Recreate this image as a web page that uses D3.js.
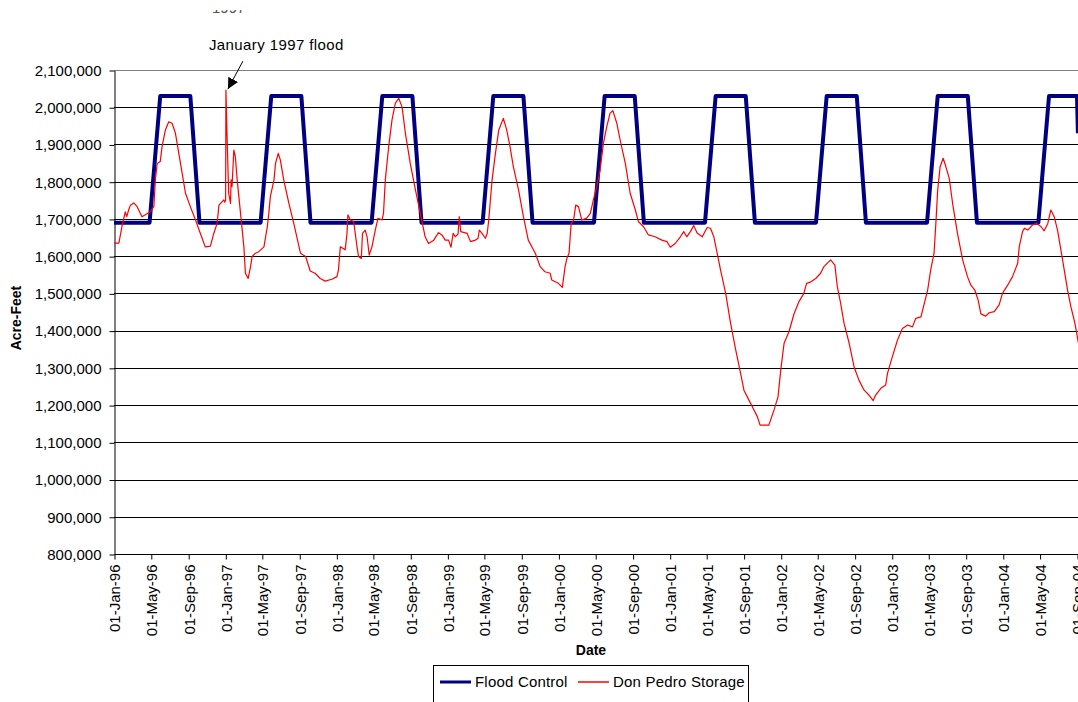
<!DOCTYPE html>
<html>
<head>
<meta charset="utf-8">
<script src="https://cdn.jsdelivr.net/npm/d3@7"></script>
<style>
  body { margin: 0; background: #fff; }
  svg { display: block; font-family: "Liberation Sans", Arial, sans-serif; }
</style>
</head>
<body>
<div id="chart"></div>
<script>
// series names / colours used by the legend
const seriesNames = ['Flood Control', 'Don Pedro Storage'];
const seriesColors = ['#000080', '#ff0000'];

const yTicks = [800000, 900000, 1000000, 1100000, 1200000, 1300000, 1400000,
    1500000, 1600000, 1700000, 1800000, 1900000, 2000000, 2100000];

const xTickLabels = ['01-Jan-96', '01-May-96', '01-Sep-96', '01-Jan-97', '01-May-97', '01-Sep-97',
    '01-Jan-98', '01-May-98', '01-Sep-98', '01-Jan-99', '01-May-99', '01-Sep-99',
    '01-Jan-00', '01-May-00', '01-Sep-00', '01-Jan-01', '01-May-01', '01-Sep-01',
    '01-Jan-02', '01-May-02', '01-Sep-02', '01-Jan-03', '01-May-03', '01-Sep-03',
    '01-Jan-04', '01-May-04', '01-Sep-04'];

// flood control maximum storage (acre-feet)
const floodControl = [
    ['1996-01-01', 1690000], ['1996-04-27', 1690000], ['1996-06-01', 2030000], ['1996-09-08', 2030000], ['1996-10-08', 1690000],
    ['1997-04-27', 1690000], ['1997-06-01', 2030000], ['1997-09-08', 2030000], ['1997-10-08', 1690000],
    ['1998-04-27', 1690000], ['1998-06-01', 2030000], ['1998-09-08', 2030000], ['1998-10-08', 1690000],
    ['1999-04-27', 1690000], ['1999-06-01', 2030000], ['1999-09-08', 2030000], ['1999-10-08', 1690000],
    ['2000-04-27', 1690000], ['2000-06-01', 2030000], ['2000-09-08', 2030000], ['2000-10-08', 1690000],
    ['2001-04-27', 1690000], ['2001-06-01', 2030000], ['2001-09-08', 2030000], ['2001-10-08', 1690000],
    ['2002-04-27', 1690000], ['2002-06-01', 2030000], ['2002-09-08', 2030000], ['2002-10-08', 1690000],
    ['2003-04-27', 1690000], ['2003-06-01', 2030000], ['2003-09-08', 2030000], ['2003-10-08', 1690000],
    ['2004-04-27', 1690000], ['2004-06-01', 2030000], ['2004-09-01', 2030000], ['2004-09-04', 1930000]
];

// Don Pedro reservoir storage (acre-feet)
const donPedroStorage = [
    ['1996-01-01', 1635000], ['1996-01-17', 1635000], ['1996-01-27', 1679000], ['1996-02-07', 1719000],
    ['1996-02-12', 1706000], ['1996-02-18', 1724000], ['1996-02-24', 1737000], ['1996-03-06', 1743000],
    ['1996-03-17', 1733000], ['1996-04-02', 1706000], ['1996-04-13', 1711000], ['1996-04-29', 1719000],
    ['1996-05-11', 1733000], ['1996-05-16', 1805000], ['1996-05-22', 1849000], ['1996-06-01', 1854000],
    ['1996-06-07', 1894000], ['1996-06-18', 1939000], ['1996-06-29', 1961000], ['1996-07-10', 1957000],
    ['1996-07-21', 1930000], ['1996-08-01', 1876000], ['1996-08-12', 1823000], ['1996-08-23', 1769000],
    ['1996-09-08', 1733000], ['1996-09-25', 1697000], ['1996-10-11', 1661000], ['1996-10-27', 1625000],
    ['1996-11-13', 1627000], ['1996-11-24', 1661000], ['1996-12-05', 1688000], ['1996-12-11', 1737000],
    ['1996-12-27', 1751000], ['1996-12-30', 1745000], ['1997-01-02', 1750000], ['1997-01-03', 2046000],
    ['1997-01-07', 1912000], ['1997-01-12', 1769000], ['1997-01-18', 1742000], ['1997-01-20', 1805000],
    ['1997-01-23', 1787000], ['1997-01-29', 1885000], ['1997-02-03', 1867000], ['1997-02-09', 1805000],
    ['1997-02-20', 1715000], ['1997-03-03', 1625000], ['1997-03-08', 1554000], ['1997-03-17', 1540000],
    ['1997-03-25', 1572000], ['1997-03-30', 1599000], ['1997-04-10', 1608000], ['1997-04-21', 1612000],
    ['1997-05-08', 1625000], ['1997-05-19', 1679000], ['1997-05-24', 1715000], ['1997-05-29', 1760000],
    ['1997-06-10', 1805000], ['1997-06-15', 1849000], ['1997-06-24', 1876000], ['1997-07-01', 1858000],
    ['1997-07-12', 1805000], ['1997-07-29', 1742000], ['1997-08-14', 1688000], ['1997-09-05', 1608000],
    ['1997-09-22', 1599000], ['1997-10-07', 1560000], ['1997-10-23', 1554000], ['1997-11-09', 1540000],
    ['1997-11-25', 1533000], ['1997-12-17', 1538000], ['1998-01-03', 1545000], ['1998-01-08', 1563000],
    ['1998-01-14', 1625000], ['1998-01-30', 1617000], ['1998-02-05', 1661000], ['1998-02-08', 1711000],
    ['1998-02-16', 1697000], ['1998-02-27', 1693000], ['1998-03-10', 1625000], ['1998-03-15', 1599000],
    ['1998-03-24', 1594000], ['1998-03-28', 1661000], ['1998-04-06', 1670000], ['1998-04-12', 1652000],
    ['1998-04-19', 1603000], ['1998-04-28', 1625000], ['1998-05-09', 1670000], ['1998-05-18', 1702000],
    ['1998-05-31', 1697000], ['1998-06-05', 1715000], ['1998-06-11', 1805000], ['1998-06-22', 1894000],
    ['1998-07-03', 1966000], ['1998-07-14', 2011000], ['1998-07-25', 2024000], ['1998-08-05', 2001000],
    ['1998-08-16', 1930000], ['1998-09-01', 1849000], ['1998-09-18', 1778000], ['1998-10-04', 1715000],
    ['1998-10-20', 1652000], ['1998-10-31', 1634000], ['1998-11-17', 1643000], ['1998-12-03', 1663000],
    ['1998-12-14', 1657000], ['1998-12-25', 1643000], ['1999-01-05', 1643000], ['1999-01-13', 1624000],
    ['1999-01-20', 1661000], ['1999-01-27', 1652000], ['1999-02-05', 1659000], ['1999-02-09', 1706000],
    ['1999-02-14', 1666000], ['1999-03-07', 1661000], ['1999-03-18', 1639000], ['1999-04-03', 1643000],
    ['1999-04-12', 1648000], ['1999-04-16', 1670000], ['1999-04-25', 1661000], ['1999-05-06', 1648000],
    ['1999-05-12', 1661000], ['1999-05-17', 1697000], ['1999-05-28', 1805000], ['1999-06-08', 1876000],
    ['1999-06-19', 1939000], ['1999-07-04', 1970000], ['1999-07-15', 1939000], ['1999-07-26', 1894000],
    ['1999-08-06', 1840000], ['1999-08-23', 1778000], ['1999-09-08', 1706000], ['1999-09-24', 1643000],
    ['1999-10-17', 1608000], ['1999-11-02', 1572000], ['1999-11-18', 1558000], ['1999-12-05', 1554000],
    ['1999-12-10', 1536000], ['2000-01-01', 1527000], ['2000-01-14', 1516000], ['2000-01-23', 1572000],
    ['2000-01-29', 1594000], ['2000-02-05', 1608000], ['2000-02-12', 1688000], ['2000-02-20', 1697000],
    ['2000-02-27', 1737000], ['2000-03-07', 1733000], ['2000-03-18', 1697000], ['2000-04-03', 1702000],
    ['2000-04-15', 1715000], ['2000-04-25', 1751000], ['2000-05-06', 1787000], ['2000-05-17', 1831000],
    ['2000-05-28', 1903000], ['2000-06-08', 1948000], ['2000-06-19', 1984000], ['2000-06-28', 1991000],
    ['2000-07-11', 1957000], ['2000-07-22', 1912000], ['2000-08-08', 1849000], ['2000-08-24', 1769000],
    ['2000-09-10', 1724000], ['2000-09-20', 1693000], ['2000-10-07', 1679000], ['2000-10-23', 1657000],
    ['2000-11-14', 1652000], ['2000-12-06', 1643000], ['2000-12-23', 1639000], ['2001-01-03', 1624000],
    ['2001-01-19', 1634000], ['2001-02-05', 1652000], ['2001-02-16', 1666000], ['2001-02-26', 1652000],
    ['2001-03-10', 1666000], ['2001-03-21', 1682000], ['2001-04-01', 1662000], ['2001-04-18', 1652000],
    ['2001-05-04', 1677000], ['2001-05-15', 1675000], ['2001-05-26', 1652000], ['2001-06-06', 1608000],
    ['2001-06-17', 1563000], ['2001-07-04', 1500000], ['2001-07-20', 1420000], ['2001-08-06', 1348000],
    ['2001-08-22', 1285000], ['2001-09-02', 1240000], ['2001-09-18', 1214000], ['2001-10-05', 1187000],
    ['2001-10-16', 1169000], ['2001-10-25', 1146000], ['2001-11-23', 1146000], ['2001-12-10', 1187000],
    ['2001-12-23', 1222000], ['2002-01-01', 1294000], ['2002-01-12', 1366000], ['2002-01-28', 1397000],
    ['2002-02-14', 1446000], ['2002-03-02', 1478000], ['2002-03-18', 1500000], ['2002-03-27', 1527000],
    ['2002-04-10', 1531000], ['2002-04-26', 1540000], ['2002-05-12', 1554000], ['2002-05-23', 1572000],
    ['2002-06-14', 1590000], ['2002-06-28', 1576000], ['2002-07-06', 1518000], ['2002-07-17', 1473000],
    ['2002-07-28', 1420000], ['2002-08-14', 1366000], ['2002-08-30', 1303000], ['2002-09-15', 1267000],
    ['2002-10-02', 1240000], ['2002-10-18', 1227000], ['2002-11-01', 1212000], ['2002-11-09', 1227000],
    ['2002-11-26', 1245000], ['2002-12-12', 1254000], ['2002-12-18', 1285000], ['2003-01-03', 1330000],
    ['2003-01-20', 1375000], ['2003-02-05', 1406000], ['2003-02-22', 1415000], ['2003-03-10', 1410000],
    ['2003-03-21', 1433000], ['2003-04-07', 1437000], ['2003-04-18', 1473000], ['2003-04-29', 1509000],
    ['2003-05-09', 1563000], ['2003-05-20', 1608000], ['2003-05-26', 1688000], ['2003-06-01', 1778000],
    ['2003-06-09', 1840000], ['2003-06-19', 1863000], ['2003-06-28', 1840000], ['2003-07-09', 1809000],
    ['2003-07-20', 1742000], ['2003-08-05', 1661000], ['2003-08-22', 1590000], ['2003-09-07', 1545000],
    ['2003-09-18', 1522000], ['2003-10-01', 1509000], ['2003-10-12', 1482000], ['2003-10-21', 1445000],
    ['2003-11-06', 1439000], ['2003-11-17', 1448000], ['2003-12-04', 1451000], ['2003-12-20', 1469000],
    ['2003-12-31', 1500000], ['2004-01-17', 1522000], ['2004-02-02', 1545000], ['2004-02-19', 1581000],
    ['2004-02-24', 1625000], ['2004-03-06', 1666000], ['2004-03-12', 1675000], ['2004-03-23', 1670000],
    ['2004-04-08', 1684000], ['2004-04-22', 1688000], ['2004-05-06', 1679000], ['2004-05-16', 1668000],
    ['2004-05-28', 1688000], ['2004-06-07', 1724000], ['2004-06-18', 1706000], ['2004-06-29', 1670000],
    ['2004-07-10', 1617000], ['2004-07-21', 1563000], ['2004-08-01', 1509000], ['2004-08-12', 1464000],
    ['2004-08-25', 1420000], ['2004-09-07', 1361000]
];

const floodLabel = {date: '1997-01-03', value: 2046000, text: 'January 1997 flood'};

let width = 1078,
    height = 702,
    plot = {left: 114, top: 70, right: 1077, bottom: 554},
    fontFamily = '"Liberation Sans", Arial, sans-serif';

let parseDay = d3.timeParse('%Y-%m-%d'),
    parseTick = d3.timeParse('%d-%b-%y');

let svg = d3.select('#chart').append('svg')
    .attr('width', width)
    .attr('height', height);

let xScale = d3.scaleTime()
    .domain([parseTick(xTickLabels[0]), parseTick(xTickLabels[xTickLabels.length - 1])])
    .range([plot.left, plot.right]);

let yScale = d3.scaleLinear()
    .domain([yTicks[0], yTicks[yTicks.length - 1]])
    .range([plot.bottom, plot.top]);

svg.append('clipPath')
    .attr('id', 'plot-clip')
    .append('rect')
    .attr('x', plot.left)
    .attr('y', plot.top - 4)
    .attr('width', width - plot.left)
    .attr('height', plot.bottom - plot.top + 4);

// horizontal gridlines
svg.append('g')
    .selectAll('line')
    .data(yTicks.slice(1))
    .join('line')
    .attr('x1', plot.left)
    .attr('x2', width)
    .attr('y1', d => Math.round(yScale(d)) + 0.5)
    .attr('y2', d => Math.round(yScale(d)) + 0.5)
    .attr('stroke', d => d === yTicks[yTicks.length - 1] ? '#808080' : '#000')
    .attr('stroke-width', 1);

// y axis
let yAxis = svg.append('g')
    .attr('transform', `translate(${plot.left + 0.5}, 0.5)`)
    .call(
        d3.axisLeft(yScale)
            .tickValues(yTicks)
            .tickFormat(d3.format(','))
            .tickSize(5)
            .tickSizeOuter(0)
            .tickPadding(8)
    );
yAxis.selectAll('text')
    .attr('font-size', '15px')
    .attr('font-family', fontFamily)
    .attr('fill', '#000');
yAxis.selectAll('line, path').attr('stroke', '#000');

// x axis
let xAxis = svg.append('g')
    .attr('transform', `translate(0.5, ${plot.bottom + 0.5})`)
    .call(
        d3.axisBottom(xScale)
            .tickValues(xTickLabels.map(parseTick))
            .tickFormat(d3.timeFormat('%d-%b-%y'))
            .tickSize(5)
            .tickSizeOuter(0)
    );
xAxis.select('.domain').attr('d', `M${plot.left},0H${width}`);
xAxis.selectAll('line, path').attr('stroke', '#000');
xAxis.selectAll('text')
    .attr('font-size', '15px')
    .attr('font-family', fontFamily)
    .attr('fill', '#000')
    .attr('transform', 'rotate(-90)')
    .attr('text-anchor', 'end')
    .attr('x', -10)
    .attr('y', 0)
    .attr('dy', '0.36em');

// series lines
let line = d3.line()
    .x(d => xScale(parseDay(d[0])))
    .y(d => yScale(d[1]));

let lines_g = svg.append('g')
    .attr('clip-path', 'url(#plot-clip)');

lines_g.append('path')
    .datum(floodControl)
    .attr('d', line)
    .attr('fill', 'none')
    .attr('stroke', seriesColors[0])
    .attr('stroke-width', 4)
    .attr('stroke-linejoin', 'round');

lines_g.append('path')
    .datum(donPedroStorage)
    .attr('d', line)
    .attr('fill', 'none')
    .attr('stroke', seriesColors[1])
    .attr('stroke-width', 1.2)
    .attr('stroke-linejoin', 'round');

// axis titles
svg.append('text')
    .attr('transform', `translate(21, ${(plot.top + plot.bottom) / 2 + 6}) rotate(-90)`)
    .attr('text-anchor', 'middle')
    .attr('font-size', '14px')
    .attr('font-weight', 'bold')
    .text('Acre-Feet');

svg.append('text')
    .attr('x', 591)
    .attr('y', 655)
    .attr('text-anchor', 'middle')
    .attr('font-size', '14px')
    .attr('font-weight', 'bold')
    .text('Date');

// flood annotation
let tipX = xScale(parseDay(floodLabel.date)) + 2,
    tipY = yScale(floodLabel.value) - 1;

svg.append('defs').append('marker')
    .attr('id', 'arrow')
    .attr('viewBox', '0 0 10 10')
    .attr('refX', 10)
    .attr('refY', 5)
    .attr('markerWidth', 11)
    .attr('markerHeight', 11)
    .attr('markerUnits', 'userSpaceOnUse')
    .attr('orient', 'auto')
    .append('path')
    .attr('d', 'M0,0L10,5L0,10Z')
    .attr('fill', '#000');

svg.append('line')
    .attr('x1', tipX + 15)
    .attr('y1', tipY - 28)
    .attr('x2', tipX)
    .attr('y2', tipY)
    .attr('stroke', '#000')
    .attr('stroke-width', 1)
    .attr('marker-end', 'url(#arrow)');

svg.append('text')
    .attr('x', tipX - 19)
    .attr('y', tipY - 39)
    .attr('font-size', '15px')
    .attr('letter-spacing', '0.4px')
    .text(floodLabel.text);

// cut-off label at the very top of the picture
svg.append('clipPath')
    .attr('id', 'top-clip')
    .append('rect')
    .attr('x', 200)
    .attr('y', 10)
    .attr('width', 60)
    .attr('height', 4);

svg.append('text')
    .attr('clip-path', 'url(#top-clip)')
    .attr('x', 212)
    .attr('y', 13)
    .attr('font-size', '15px')
    .attr('fill', '#555')
    .text('1997');

// legend
let legend = svg.append('g');

legend.append('rect')
    .attr('x', 433.5)
    .attr('y', 665.5)
    .attr('width', 315)
    .attr('height', 45)
    .attr('fill', '#fff')
    .attr('stroke', '#000');

let legendX = [440, 578];

seriesNames.forEach((name, i) => {
    legend.append('line')
        .attr('x1', legendX[i])
        .attr('x2', legendX[i] + 31)
        .attr('y1', 682)
        .attr('y2', 682)
        .attr('stroke', seriesColors[i])
        .attr('stroke-width', i === 0 ? 3 : 1.5);
    legend.append('text')
        .attr('x', legendX[i] + 35)
        .attr('y', 687)
        .attr('font-size', '15px')
        .attr('letter-spacing', '0.2px')
        .text(name);
});
</script>
</body>
</html>
